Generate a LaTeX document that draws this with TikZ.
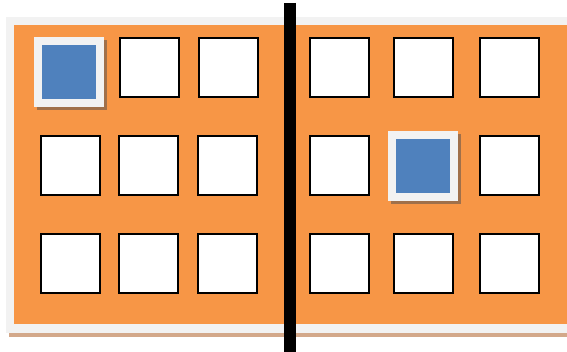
\documentclass[tikz,border=0pt]{standalone}
\begin{document}
\begin{tikzpicture}[x=1pt,y=-1pt]
\definecolor{orng}{HTML}{F79646}
\definecolor{frm}{HTML}{F2F2F2}
\definecolor{tan}{HTML}{D3A88A}
\definecolor{blu}{HTML}{4F81BD}
\definecolor{shd}{HTML}{A0704A}
\tikzset{
  cell/.style={draw=black, line width=2pt, fill=white, minimum size=59pt, inner sep=0pt, outer sep=0pt},
  selframe/.style={fill=frm, minimum size=70pt, inner sep=0pt},
  selshadow/.style={fill=shd, minimum size=70pt, inner sep=0pt},
  selinner/.style={fill=blu, minimum size=54pt, inner sep=0pt}
}
\useasboundingbox (0,0) rectangle (567,352);
% frame, shadow, board
\fill[tan] (9,21) rectangle (571,337);
\fill[frm] (6,17) rectangle (575,333);
\fill[orng] (14,25) rectangle (575,324);
% cells, left half
\foreach \c/\x in {2/149.5,3/228}{\node[cell] (L1\c) at (\x,67.3) {};}
\foreach \r/\y in {2/165.5,3/263.3}{
  \foreach \c/\x in {1/70,2/148.5,3/227}{\node[cell] (L\r\c) at (\x,\y) {};}}
% cells, right half
\foreach \r/\y in {1/67.3,3/263.3}{
  \foreach \c/\x in {1/339,2/423.5,3/509.5}{\node[cell] (R\r\c) at (\x,\y) {};}}
\node[cell] (R21) at (339,165.5) {};
\node[cell] (R23) at (509.5,165.5) {};
% selected cells
\node[selshadow] at (72,75) {};
\node[selframe] (L11) at (69,72) {};
\node[selinner] (L11b) at (L11) {};
\node[selshadow] at (426,169) {};
\node[selframe] (R22) at (422.7,166) {};
\node[selinner] (R22b) at (R22) {};
% divider
\coordinate (dtop) at (290,3);
\coordinate (dbot) at (290,352);
\draw[line width=12pt, black] (dtop) -- (dbot);
\end{tikzpicture}
\end{document}
